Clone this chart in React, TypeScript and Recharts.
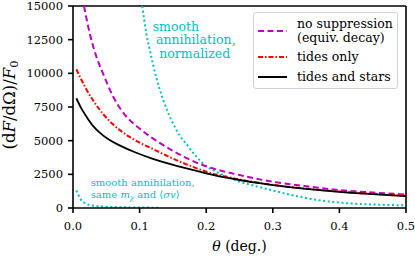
import { Line, LineChart, ReferenceLine, XAxis, YAxis } from "recharts";

// theta (deg.) sampled along each curve, values are (dF/dΩ)/F0
const noSuppTheta = [0.0165, 0.025, 0.035, 0.045, 0.06, 0.075, 0.1, 0.125, 0.15, 0.175, 0.2, 0.25, 0.3, 0.35, 0.4, 0.45, 0.5];
const noSuppVals = [15000, 13000, 11250, 10000, 8300, 7100, 5900, 5000, 4250, 3600, 3100, 2450, 1950, 1620, 1330, 1150, 1000];

const tidesTheta = [0.005, 0.018, 0.03, 0.04, 0.055, 0.07, 0.085, 0.1, 0.115, 0.14, 0.17, 0.2, 0.25, 0.3, 0.35, 0.4, 0.45, 0.5];
const tidesVals = [10300, 9000, 8000, 7300, 6450, 5800, 5280, 4850, 4500, 3900, 3250, 2700, 2120, 1720, 1440, 1220, 1050, 900];

const starsTheta = [0.005, 0.0125, 0.02, 0.03, 0.04, 0.055, 0.07, 0.095, 0.12, 0.145, 0.175, 0.2, 0.23, 0.25, 0.28, 0.3, 0.35, 0.4, 0.45, 0.5];
const starsVals = [8150, 7400, 6800, 6100, 5600, 5050, 4650, 4100, 3650, 3270, 2880, 2580, 2260, 2080, 1840, 1700, 1420, 1200, 1030, 880];

const smoothNormTheta = [0.104, 0.11, 0.116, 0.125, 0.135, 0.148, 0.16, 0.171, 0.185, 0.2, 0.215, 0.23, 0.25, 0.275, 0.3, 0.325, 0.35, 0.375, 0.4, 0.45, 0.5];
const smoothNormVals = [15000, 13000, 11580, 9690, 8090, 6500, 5400, 4700, 3830, 3100, 2700, 2350, 1950, 1620, 1300, 1000, 740, 540, 400, 260, 200];

const smoothSameTheta = [0.005, 0.0105, 0.018, 0.03, 0.05, 0.075, 0.1, 0.13];
const smoothSameVals = [1300, 720, 360, 170, 90, 55, 35, 25];

const xTicks = [0, 0.1, 0.2, 0.3, 0.4, 0.5];
const yTicks = [0, 2500, 5000, 7500, 10000, 12500, 15000];

const toRows = (ts: number[], vs: number[]) => ts.map((t, i) => ({ t, v: vs[i] }));

const FONT = "DejaVu Serif";

const series = [
  { key: "nosupp", label: ["no suppression", "(equiv. decay)"], color: "#bf00bf", dash: "6 3.5", data: toRows(noSuppTheta, noSuppVals) },
  { key: "tides", label: ["tides only"], color: "#ff0000", dash: "5 2 1.5 2", data: toRows(tidesTheta, tidesVals) },
  { key: "stars", label: ["tides and stars"], color: "#000000", dash: undefined, data: toRows(starsTheta, starsVals) },
];

function LegendBox() {
  const rows = [
    { s: series[0], lineY: 19, textY: [12, 26] },
    { s: series[1], lineY: 45, textY: [45] },
    { s: series[2], lineY: 65, textY: [65] },
  ];
  return (
    <div
      style={{
        position: "absolute",
        left: 253,
        top: 12,
        width: 145,
        height: 77,
        boxSizing: "border-box",
        border: "1px solid #d2d2d2",
        borderRadius: 3,
        background: "rgba(255,255,255,0.85)",
      }}
    >
      <svg width={145} height={77} style={{ position: "absolute", left: -1, top: -1 }}>
        {rows.map(({ s, lineY }) => (
          <line key={s.key} x1={5} x2={34} y1={lineY} y2={lineY} stroke={s.color} strokeWidth={2} strokeDasharray={s.dash} />
        ))}
        {rows.map(({ s, textY }) =>
          s.label.map((txt, i) => (
            <text key={s.key + i} x={44} y={textY[i]} dy="0.35em" fontFamily={FONT} fontSize={12.5} fill="#000">
              {txt}
            </text>
          ))
        )}
      </svg>
    </div>
  );
}

export default function App() {
  return (
    <div style={{ position: "absolute", left: 0, top: 0, width: 415, height: 257, background: "#fff" }}>
      <LineChart width={415} height={257} margin={{ top: 6, right: 9, left: 13, bottom: 19 }}>
        <XAxis
          dataKey="t"
          type="number"
          domain={[0, 0.5]}
          ticks={xTicks}
          interval={0}
          tickFormatter={(v: number) => v.toFixed(1)}
          allowDataOverflow
          height={30}
          stroke="#000"
          strokeWidth={1.6}
          tickSize={5}
          tickMargin={9}
          tick={{ fill: "#000", fontFamily: FONT, fontSize: 11.5 }}
        />
        <YAxis
          type="number"
          domain={[0, 15000]}
          ticks={yTicks}
          interval={0}
          allowDataOverflow
          width={60}
          stroke="#000"
          strokeWidth={1.6}
          tickSize={5}
          tickMargin={5}
          tick={{ fill: "#000", fontFamily: FONT, fontSize: 11.5 }}
        />
        <ReferenceLine y={15000} stroke="#000" strokeWidth={1.6} ifOverflow="visible" />
        <ReferenceLine x={0.5} stroke="#000" strokeWidth={1.6} ifOverflow="visible" />

        <Line data={toRows(smoothNormTheta, smoothNormVals)} dataKey="v" type="monotone" stroke="#00bfbf" strokeWidth={2} strokeDasharray="2 2.6" dot={false} isAnimationActive={false} legendType="none" />
        <Line data={toRows(smoothSameTheta, smoothSameVals)} dataKey="v" type="monotone" stroke="#00bfbf" strokeWidth={2} strokeDasharray="2 2.6" dot={false} isAnimationActive={false} legendType="none" />
        {series.map((s) => (
          <Line key={s.key} data={s.data} dataKey="v" name={s.key} type="monotone" stroke={s.color} strokeWidth={s.key === "stars" ? 1.8 : 2} strokeDasharray={s.dash} dot={false} isAnimationActive={false} />
        ))}

        <text fontFamily={FONT} fontSize={12.5} fill="#00bfbf">
          <tspan x={152.7} y={30.5}>smooth</tspan>
          <tspan x={156} y={44.3}>annihilation,</tspan>
          <tspan x={159.3} y={58.1}>normalized</tspan>
        </text>
        <text fontFamily={FONT} fontSize={10} fill="#00bfbf">
          <tspan x={90.7} y={186}>smooth annihilation,</tspan>
          <tspan x={90.7} y={197.5}>same </tspan>
          <tspan fontStyle="italic">m</tspan>
          <tspan fontStyle="italic" fontSize={7} dy={2}>χ</tspan>
          <tspan dy={-2}> and ⟨</tspan>
          <tspan fontStyle="italic">σv</tspan>
          <tspan>⟩</tspan>
        </text>
        <text transform="translate(15,105) rotate(-90)" textAnchor="middle" fontFamily={FONT} fontSize={16.5} fill="#000">
          <tspan>(d</tspan>
          <tspan fontStyle="italic">F</tspan>
          <tspan>/dΩ)/</tspan>
          <tspan fontStyle="italic">F</tspan>
          <tspan fontSize={11.5} dy={3}>0</tspan>
        </text>
        <text x={239.5} y={251} textAnchor="middle" fontFamily={FONT} fontSize={14} fill="#000">
          <tspan fontStyle="italic">θ</tspan>
          <tspan> (deg.)</tspan>
        </text>
      </LineChart>
      <LegendBox />
    </div>
  );
}
